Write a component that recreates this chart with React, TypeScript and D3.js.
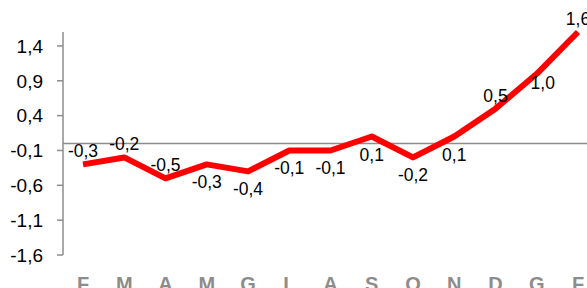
import React from "react";
import * as d3 from "d3";

const months = ["F", "M", "A", "M", "G", "L", "A", "S", "O", "N", "D", "G", "F"];
const values = [-0.3, -0.2, -0.5, -0.3, -0.4, -0.1, -0.1, 0.1, -0.2, 0.1, 0.5, 1.0, 1.6];
const labelPlace = ["above", "above", "above", "below", "below", "below", "below", "below", "below", "below", "above", "belowRight", "above"];
const yTicks = [1.4, 0.9, 0.4, -0.1, -0.6, -1.1, -1.6];

const W = 587;
const H = 288;
const FONT = "'Liberation Sans Narrow', 'Arial Narrow', 'Liberation Sans', Arial, sans-serif";
const fmt = (v: number) => d3.format(".1f")(v).replace(".", ",").replace("−", "-");

export default function App() {
  const idx = months.map((_, i) => String(i));
  const x = d3.scalePoint<string>().domain(idx).range([83, 578]);
  const y = d3.scaleLinear().domain([-1.6, 1.6]).range([255, 32]);
  const axisX = 63;

  const line = d3
    .line<number>()
    .x((_, i) => x(String(i)) as number)
    .y((d) => y(d))
    .curve(d3.curveLinear);

  const labelXY = (v: number, i: number) => {
    const px = x(String(i)) as number;
    const py = y(v);
    const p = labelPlace[i];
    if (p === "above") return [px, py - 7];
    if (p === "belowRight") return [px + 6, py + 15];
    return [px, py + 24];
  };

  return (
    <svg width={W} height={H} style={{ position: "absolute", left: 0, top: 0, background: "#fff" }}>
      {/* zero line */}
      <line x1={axisX} x2={W} y1={y(0)} y2={y(0)} stroke="#8c8c8c" strokeWidth={1.5} />
      {/* y axis */}
      <line x1={axisX} x2={axisX} y1={y(1.6)} y2={y(-1.6)} stroke="#8c8c8c" strokeWidth={1.5} />
      {yTicks.map((t) => (
        <g key={t}>
          <line x1={axisX - 6} x2={axisX} y1={y(t)} y2={y(t)} stroke="#8c8c8c" strokeWidth={1.5} />
          <text
            x={43}
            y={y(t)}
            dy="0.36em"
            textAnchor="end"
            fontFamily={FONT}
            fontSize={19}
            fill="#000"
          >
            {fmt(t)}
          </text>
        </g>
      ))}
      {/* series line */}
      <path d={line(values) || ""} fill="none" stroke="#ff0000" strokeWidth={6} strokeLinejoin="round" />
      {/* data labels */}
      {values.map((v, i) => {
        const [lx, ly] = labelXY(v, i);
        return (
          <text
            key={i}
            x={lx}
            y={ly}
            textAnchor="middle"
            fontFamily={FONT}
            fontSize={17.5}
            fill="#000"
          >
            {fmt(v)}
          </text>
        );
      })}
      {/* month labels */}
      {months.map((m, i) => (
        <text
          key={i}
          x={x(String(i))}
          y={291}
          textAnchor="middle"
          fontFamily={FONT}
          fontSize={20}
          fontWeight="bold"
          fill="#8c8c8c"
        >
          {m}
        </text>
      ))}
    </svg>
  );
}
